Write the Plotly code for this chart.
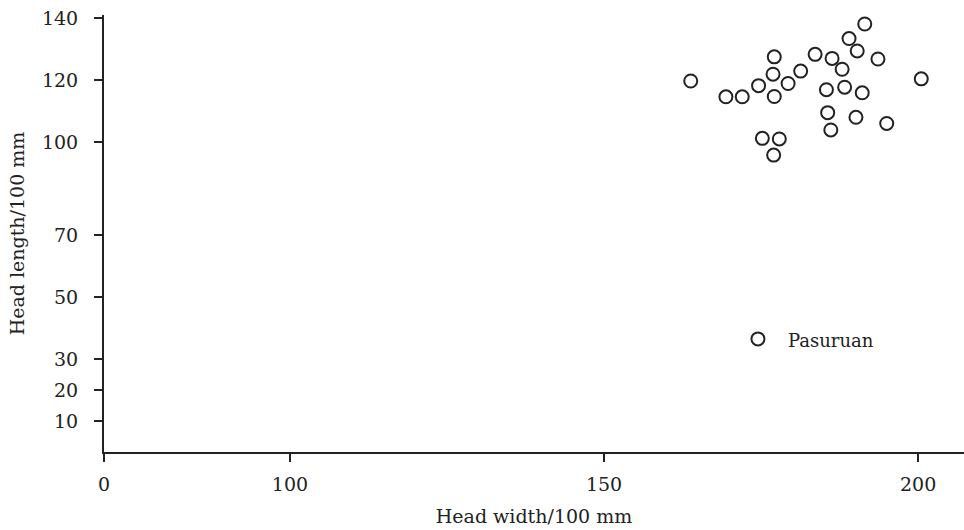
import plotly.graph_objects as go

# Head width (x) and head length (y), units of 100 mm
head_width = [163.8, 169.4, 172.0, 174.6, 177.1, 176.9, 177.1, 179.3, 181.3, 183.6,
              186.3, 187.9, 189.0, 191.5, 190.3, 193.6, 200.5, 185.4, 188.3, 191.1,
              185.6, 186.1, 190.1, 195.0, 175.2, 177.9, 177.0]
head_length = [119.7, 114.6, 114.6, 118.2, 127.5, 121.9, 114.7, 118.9, 122.9, 128.3,
               127.0, 123.5, 133.4, 138.1, 129.4, 126.8, 120.4, 116.9, 117.7, 115.9,
               109.5, 103.9, 108.0, 106.0, 101.2, 101.0, 95.8]

pasuruan_x = [174.5]
pasuruan_y = [36.5]
pasuruan_label = "Pasuruan"

y_ticks = [10, 20, 30, 50, 70, 100, 120, 140]
x_tick_pos = [70.4, 100, 150, 200]   # axis is broken between 0 and 100
x_tick_text = ["0", "100", "150", "200"]

FONT = "DejaVu Serif"
INK = "#222222"

fig = go.Figure()
marker = dict(symbol="circle-open", size=13, color=INK, line=dict(width=2, color=INK))
fig.add_trace(go.Scatter(x=head_width, y=head_length, mode="markers", marker=marker,
                         showlegend=False, hoverinfo="skip"))
fig.add_trace(go.Scatter(x=pasuruan_x, y=pasuruan_y, mode="markers", marker=marker,
                         showlegend=False, hoverinfo="skip"))
fig.add_annotation(x=pasuruan_x[0], y=pasuruan_y[0], text=pasuruan_label, showarrow=False,
                   xanchor="left", xshift=28, yshift=-2,
                   font=dict(family=FONT, size=18, color=INK))

fig.update_layout(
    width=964, height=530,
    margin=dict(l=104, r=0, t=15, b=78),
    paper_bgcolor="white", plot_bgcolor="white",
    font=dict(family=FONT, size=19, color=INK),
    xaxis=dict(range=[70.4, 207.3], tickmode="array", tickvals=x_tick_pos, ticktext=x_tick_text,
               showgrid=False, zeroline=False, showline=True, linecolor=INK, linewidth=2,
               ticks="outside", ticklen=8, tickwidth=2, tickcolor=INK,
               ticklabelstandoff=6, automargin=False,
               title=dict(text="Head width/100 mm", standoff=16, font=dict(size=19))),
    yaxis=dict(range=[0, 141], tickmode="array", tickvals=y_ticks,
               showgrid=False, zeroline=False, showline=True, linecolor=INK, linewidth=2,
               ticks="outside", ticklen=8, tickwidth=2, tickcolor=INK,
               ticklabelstandoff=12, automargin=False,
               title=dict(text="Head length/100 mm", standoff=12, font=dict(size=19))),
)

fig.write_html("out.html", config={"displayModeBar": False},
               post_script="document.body.style.margin='0';document.body.style.overflow='hidden';")
